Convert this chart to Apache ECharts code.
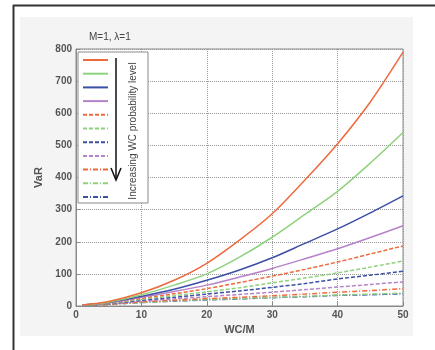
<!DOCTYPE html>
<html><head><meta charset="utf-8">
<script src="https://cdn.jsdelivr.net/npm/echarts@6/dist/echarts.min.js"></script>
<style>html,body{margin:0;padding:0;background:#fff}#c{width:435px;height:350px}</style>
</head><body><div id="c"></div>
<script>
const xs = [1, 5, 10, 15, 20, 25, 30, 35, 40, 45, 50];
const s1 = [3, 14, 41, 80, 133, 205, 287, 392, 505, 635, 790];
const s2 = [3, 12, 35, 65, 100, 152, 214, 285, 357, 445, 540];
const s3 = [3, 11, 30, 52, 80, 112, 150, 195, 240, 290, 343];
const s4 = [3, 10, 27, 45, 65, 90, 117, 147, 178, 213, 250];
const s5 = [3, 9, 24, 38, 54, 73, 93, 114, 137, 162, 187];
const s6 = [2, 8, 21, 32, 44, 57, 72, 87, 103, 121, 140];
const s7 = [2, 7, 18, 27, 37, 47, 58, 70, 84, 96, 108];
const s8 = [2, 6, 15, 22, 29, 36, 43, 51, 59, 67, 75];
const s9 = [2, 5, 13, 18, 23, 27, 32, 37, 43, 48, 54];
const s10 = [2, 5, 11, 16, 20, 23, 27, 30, 34, 37, 40];
const s11 = [2, 5, 11, 15, 19, 22, 26, 29, 33, 35, 38];
const allSeries = [s1, s2, s3, s4, s5, s6, s7, s8, s9, s10, s11];
const names = ['p1','p2','p3','p4','p5','p6','p7','p8','p9','p10','p11'];
const xTicks = [0, 10, 20, 30, 40, 50];
const yTicks = [0, 100, 200, 300, 400, 500, 600, 700, 800];
const titleText = 'M=1, \u03bb=1';
const arrowText = 'Increasing WC probability level';

const palette = ['#ee6a3c', '#8fd27e', '#3c4fa6', '#b682c8'];
const dashStyles = ['solid', 'solid', 'solid', 'solid', [4, 2], [4, 2], [4, 2], [4, 2], [5, 2, 1, 2], [5, 2, 1, 2], [5, 2, 1, 2]];

const series = allSeries.map((vals, i) => ({
  name: names[i],
  type: 'line',
  symbol: 'none',
  smooth: 0.3,
  data: vals.map((v, k) => [xs[k], v]),
  lineStyle: { color: palette[i % 4], width: 1.5, type: dashStyles[i] },
  itemStyle: { color: palette[i % 4] },
  z: 2 + (11 - i)
}));

const chart = echarts.init(document.getElementById('c'), null, { renderer: 'canvas' });
chart.setOption({
  animation: false,
  backgroundColor: '#fff',
  textStyle: { fontFamily: 'Liberation Sans, Arial, sans-serif' },
  grid: { left: 76, right: 32, top: 49, bottom: 44, show: true, borderColor: '#8a8a8a', borderWidth: 1, backgroundColor: '#fff' },
  title: {
    text: titleText, left: 84, top: 27,
    textStyle: { fontSize: 10, fontWeight: 'normal', color: '#444', fontFamily: 'Liberation Sans, Arial, sans-serif' }
  },
  legend: {
    orient: 'vertical', left: 82, top: 55, z: 20, padding: 0,
    itemWidth: 25, itemHeight: 10, itemGap: 3.7,
    formatter: () => '',
    textStyle: { fontSize: 6 },
    itemStyle: { opacity: 0 },
    data: names, selectedMode: false
  },
  xAxis: {
    type: 'value', min: 0, max: 50, interval: 10,
    name: 'WC/M', nameLocation: 'middle', nameGap: 15,
    nameTextStyle: { fontSize: 11, color: '#555', fontWeight: 'bold', verticalAlign: 'top' },
    axisLine: { show: true, lineStyle: { color: '#8a8a8a' } },
    axisTick: { show: true, inside: true, length: 4, lineStyle: { color: '#8a8a8a' } },
    axisLabel: { fontSize: 10, color: '#555', fontWeight: 'bold', margin: 4,
      formatter: v => xTicks.includes(v) ? String(v) : '' },
    splitLine: { show: true, lineStyle: { color: '#999', type: [1, 1], width: 1 } }
  },
  yAxis: {
    type: 'value', min: 0, max: 800, interval: 100,
    name: 'VaR', nameLocation: 'middle', nameGap: 26, nameRotate: 90,
    nameTextStyle: { fontSize: 11, color: '#555', fontWeight: 'bold' },
    axisLine: { show: true, lineStyle: { color: '#8a8a8a' } },
    axisTick: { show: true, inside: true, length: 4, lineStyle: { color: '#8a8a8a' } },
    axisLabel: { fontSize: 10, color: '#555', fontWeight: 'bold', margin: 4,
      formatter: v => yTicks.includes(v) ? String(v) : '' },
    splitLine: { show: true, lineStyle: { color: '#999', type: [1, 1], width: 1 } }
  },
  graphic: [
    { type: 'rect', z: -10, silent: true, shape: { x: 20, y: 17, width: 393, height: 319 }, style: { fill: '#f4f4f4' } },
    { type: 'line', z: 30, silent: true, shape: { x1: 13, y1: 5.5, x2: 435, y2: 5.5 }, style: { stroke: '#333', lineWidth: 2 } },
    { type: 'line', z: 30, silent: true, shape: { x1: 13.5, y1: 5, x2: 13.5, y2: 350 }, style: { stroke: '#333', lineWidth: 2 } },
    { type: 'rect', z: 10, silent: true, shape: { x: 78, y: 52, width: 70, height: 151 }, style: { fill: '#fff', stroke: '#8a8a8a', lineWidth: 1 } },
    { type: 'line', z: 25, silent: true, shape: { x1: 116, y1: 58, x2: 116, y2: 179 }, style: { stroke: '#111', lineWidth: 1.5 } },
    { type: 'polyline', z: 25, silent: true, shape: { points: [[111, 168], [116, 180], [121, 168]] }, style: { stroke: '#111', lineWidth: 1.5, fill: null } },
    { type: 'text', z: 25, silent: true, x: 133, y: 131, rotation: Math.PI / 2,
      style: { text: arrowText, fontSize: 10, fill: '#444', align: 'center', verticalAlign: 'middle', fontFamily: 'Liberation Sans, Arial, sans-serif' } }
  ],
  series: series
}, true);
chart.setOption({ legend: { itemGap: 4.7 } });
</script></body></html>
